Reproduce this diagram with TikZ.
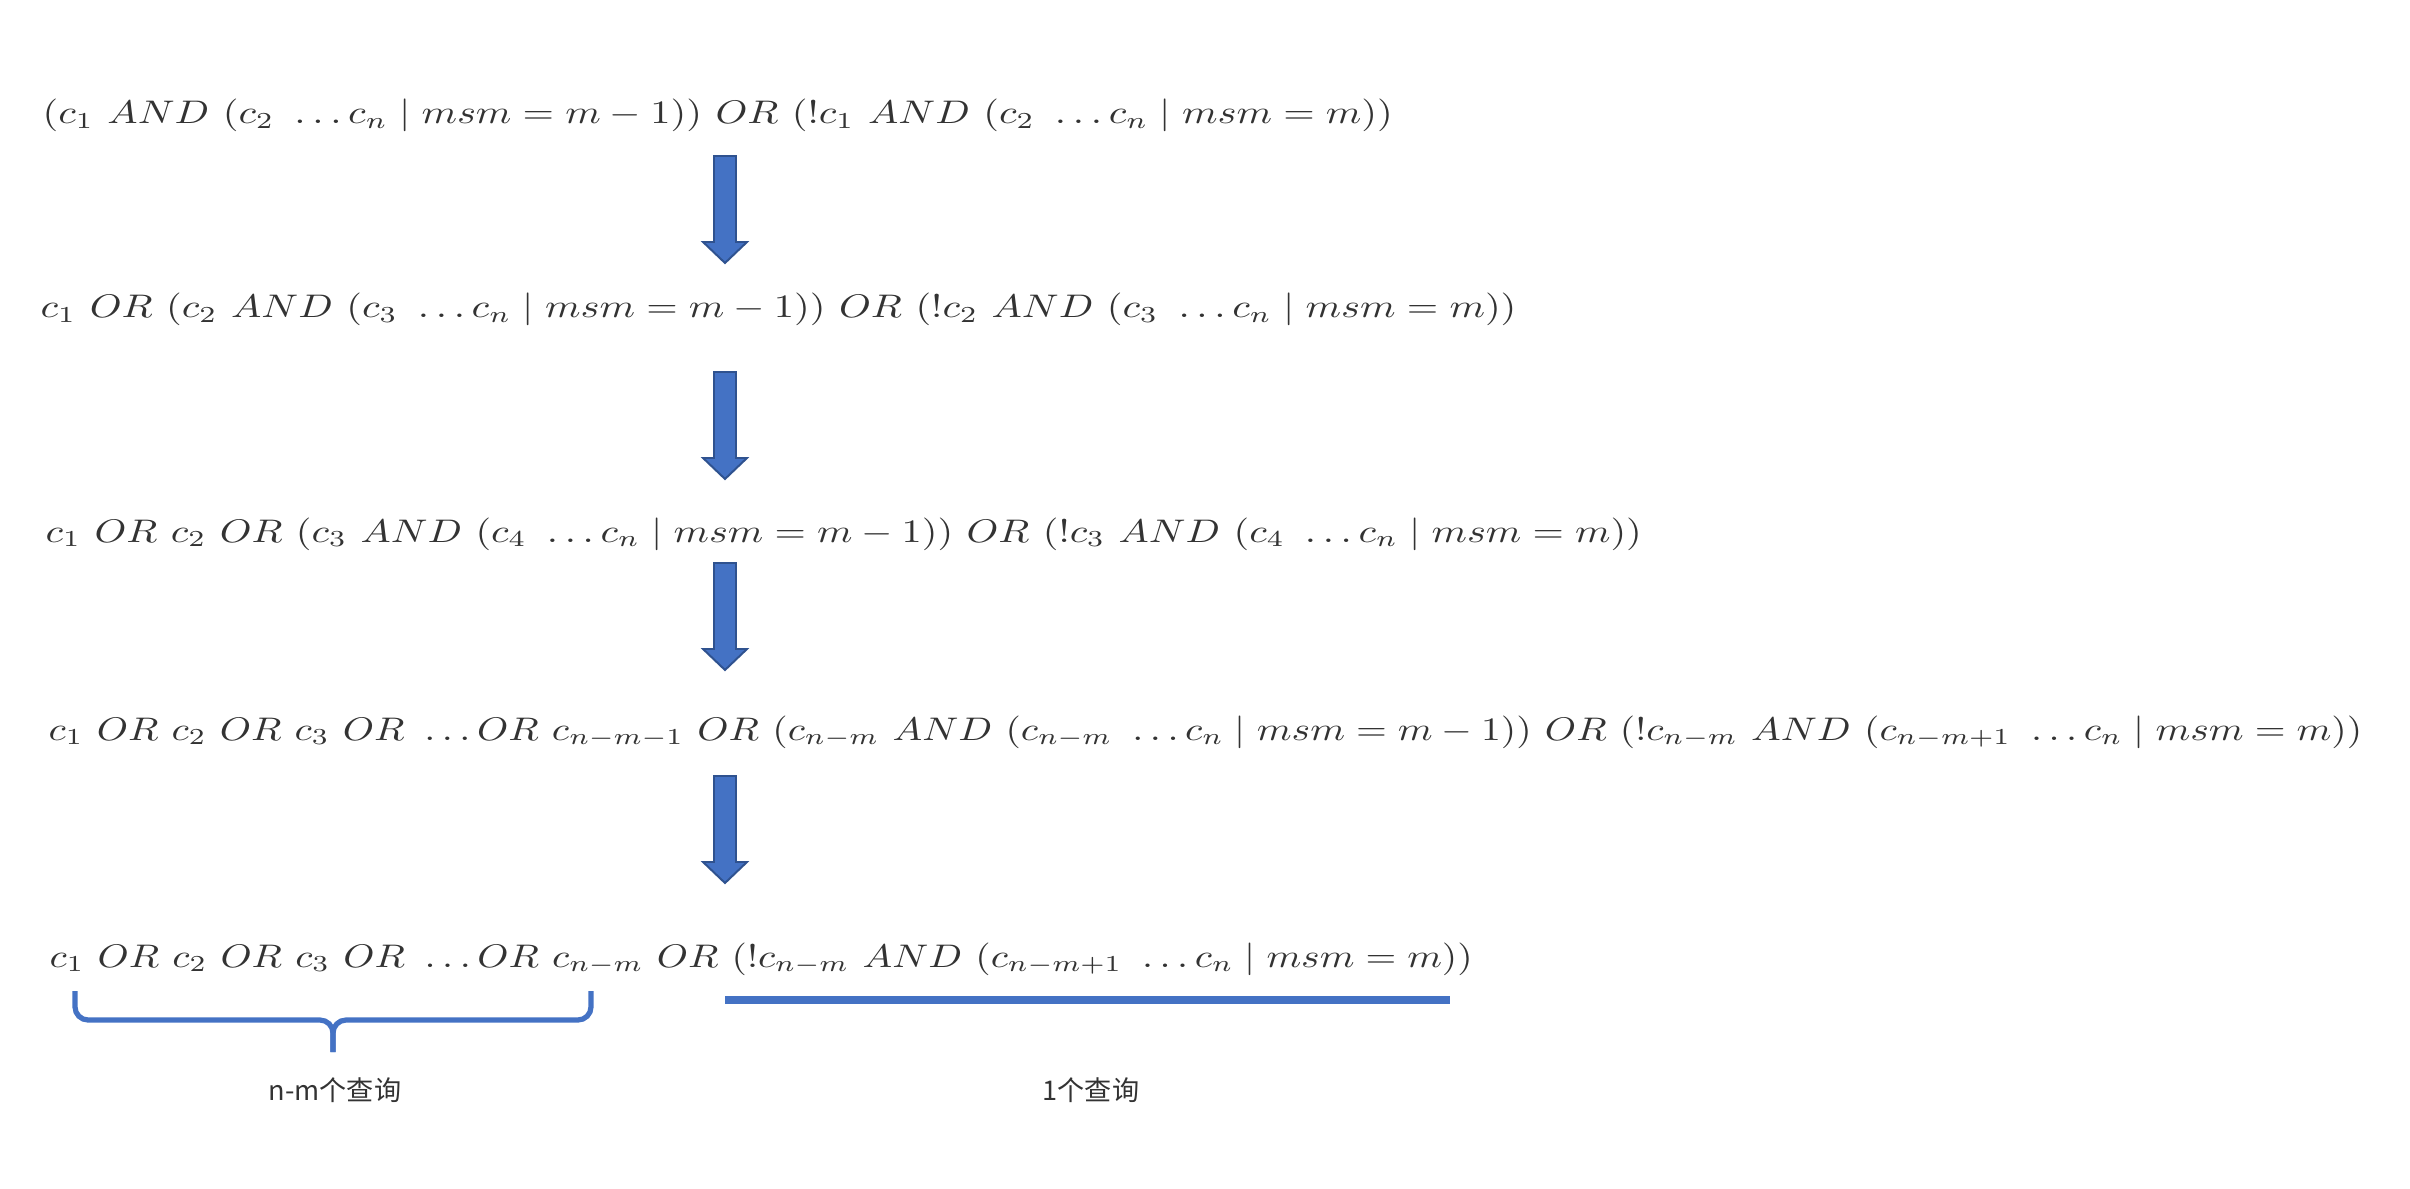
\documentclass[tikz,border=0pt]{standalone}
\usepackage{fontspec}
\newfontfamily\cjk{Noto Sans CJK SC}
\usepackage{amsmath}
\usepackage{graphicx}
\usetikzlibrary{positioning}
\definecolor{RuleBlue}{RGB}{68,114,196}
\definecolor{RuleEdge}{RGB}{47,82,143}
\definecolor{TextGray}{RGB}{51,51,51}
% formulas are set a little wider than their natural width
\newcommand\formula[2][1.22]{\scalebox{#1}[1]{$#2$}}

\begin{document}
\begin{tikzpicture}[
    x=1.075cm, y=1.075cm,
    % ── Styles ──
    expr/.style    = {anchor=base west, inner sep=0pt, text=TextGray},
    note/.style    = {font=\cjk\fontsize{8.3}{10}\selectfont, text=TextGray, inner sep=0pt},
    bracket/.style = {draw=RuleBlue, line width=1.6pt, rounded corners=4pt},
    span/.style    = {draw=RuleBlue, line width=2.6pt},
    downarr/.pic   = {\draw[fill=RuleBlue, draw=RuleEdge, line width=0.6pt, line join=miter]
        (-0.11,0) -- (-0.11,-0.86) -- (-0.22,-0.86) -- (0,-1.07)
        -- (0.22,-0.86) -- (0.11,-0.86) -- (0.11,0) -- cycle;},
]
\useasboundingbox (0,0) rectangle (24.10,-11.88);

% =====================================================================
%  REWRITING STEPS
% =====================================================================
\node[expr] (e1) at (0.42,-1.24)
    {\formula[1.237]{(c_1\ AND\ (c_2\ \ldots c_n \mid msm = m-1))\ OR\ (!c_1\ AND\ (c_2\ \ldots c_n \mid msm = m))}};
\node[expr] (e2) at (0.40,-3.18)
    {\formula[1.237]{c_1\ OR\ (c_2\ AND\ (c_3\ \ldots c_n \mid msm = m-1))\ OR\ (!c_2\ AND\ (c_3\ \ldots c_n \mid msm = m))}};
\node[expr] (e3) at (0.45,-5.42)
    {\formula[1.233]{c_1\ OR\ c_2\ OR\ (c_3\ AND\ (c_4\ \ldots c_n \mid msm = m-1))\ OR\ (!c_3\ AND\ (c_4\ \ldots c_n \mid msm = m))}};
\node[expr] (e4) at (0.48,-7.40)
    {\formula[1.212]{c_1\ OR\ c_2\ OR\ c_3\ OR\ \ldots OR\ c_{n-m-1}\ OR\ (c_{n-m}\ AND\ (c_{n-m}\ \ldots c_n \mid msm = m-1))\ OR\ (!c_{n-m}\ AND\ (c_{n-m+1}\ \ldots c_n \mid msm = m))}};
\node[expr] (e5) at (0.49,-9.67)
    {\formula[1.21]{c_1\ OR\ c_2\ OR\ c_3\ OR\ \ldots OR\ c_{n-m}\ OR\ (!c_{n-m}\ AND\ (c_{n-m+1}\ \ldots c_n \mid msm = m))}};

% ── block arrows between the steps
\pic at (7.25,-1.56) {downarr};
\pic at (7.25,-3.72) {downarr};
\pic at (7.25,-5.63) {downarr};
\pic at (7.25,-7.76) {downarr};

% =====================================================================
%  QUERY COUNTS UNDER THE LAST STEP
% =====================================================================
\coordinate (br-l)   at (0.75,-9.91);
\coordinate (br-r)   at (5.91,-9.91);
\coordinate (br-m)   at (3.33,-10.20);
\coordinate (br-tip) at (3.33,-10.52);
\draw[bracket] (br-l) |- (br-m) -- (br-tip);
\draw[bracket] (br-r) |- (br-m) -- (br-tip);

\coordinate (bar-l) at (7.25,-10.00);
\coordinate (bar-r) at (14.50,-10.00);
\draw[span] (bar-l) -- (bar-r);

\node[note] (q-many) at (3.35,-10.90) {n-m个查询};
\node[note] (q-one)  at (10.91,-10.90) {1个查询};

\end{tikzpicture}
\end{document}
